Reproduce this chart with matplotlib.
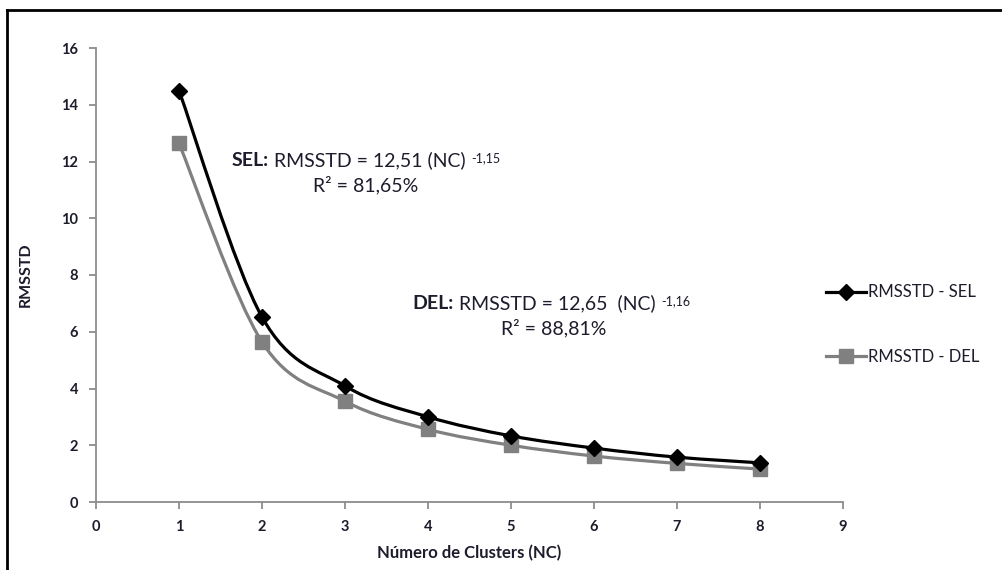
import numpy as np
import matplotlib
matplotlib.use("Agg")
from matplotlib import pyplot as plt
from matplotlib.path import Path
from matplotlib.patches import PathPatch
from matplotlib.lines import Line2D

nc = [1, 2, 3, 4, 5, 6, 7, 8]
rmsstd_sel = [14.5, 6.52, 4.09, 3.0, 2.33, 1.9, 1.58, 1.38]
rmsstd_del = [12.64, 5.64, 3.55, 2.56, 2.0, 1.62, 1.36, 1.16]
labels = ["RMSSTD - SEL", "RMSSTD - DEL"]

plt.rcParams['font.family'] = ['Lato', 'DejaVu Sans']

txt = '#1c1c2c'
W, H = 1003, 570

fig = plt.figure(figsize = (W / 100, H / 100), dpi = 100)
ax = fig.add_axes([96 / W, 1 - 502 / H, (843 - 96) / W, (502 - 48) / H])


def smooth_path(x, y):
	# excel-like smoothed line: bezier segments through the points
	x = np.asarray(x, float)
	y = np.asarray(y, float)
	pts = np.column_stack([x, y])
	n = len(pts)
	verts = [pts[0]]
	codes = [Path.MOVETO]
	for i in range(n - 1):
		p0 = pts[i - 1] if i > 0 else pts[i]
		p1 = pts[i]
		p2 = pts[i + 1]
		p3 = pts[i + 2] if i + 2 < n else pts[i + 1]
		c1 = p1 + (p2 - p0) / 6
		c2 = p2 - (p3 - p1) / 6
		verts += [c1, c2, p2]
		codes += [Path.CURVE4] * 3
	return Path(verts, codes)


ax.add_patch(PathPatch(smooth_path(nc, rmsstd_sel), fill = False, edgecolor = 'black', lw = 2.3, zorder = 3))
ax.add_patch(PathPatch(smooth_path(nc, rmsstd_del), fill = False, edgecolor = '#808080', lw = 2.3, zorder = 2))
ax.plot(nc, rmsstd_sel, 'D', color = 'black', ms = 8, zorder = 4)
ax.plot(nc, rmsstd_del, 's', color = '#808080', ms = 10, zorder = 3)

ax.set_xlim(0, 9)
ax.set_ylim(0, 16)
ax.set_xticks(range(0, 10))
ax.set_yticks(range(0, 17, 2))

for s in ['top', 'right']:
	ax.spines[s].set_visible(False)
for s in ['left', 'bottom']:
	ax.spines[s].set_color('#8c8c8c')
	ax.spines[s].set_linewidth(1.3)
ax.tick_params(direction = 'out', length = 5, width = 1.3, color = '#8c8c8c', labelsize = 10.5, labelcolor = txt, pad = 8)
for lab in ax.get_xticklabels() + ax.get_yticklabels():
	lab.set_fontweight('bold')

ax.set_xlabel("Número de Clusters (NC)", fontsize = 12, fontweight = 'bold', color = txt, labelpad = 8)
ax.set_ylabel("RMSSTD", fontsize = 11.5, fontweight = 'bold', color = txt, labelpad = 20)


def equation(x, y, tag, body, expo):
	t1 = ax.text(x, y, tag, fontsize = 14, fontweight = 'bold', color = txt, va = 'center', ha = 'left')
	t2 = ax.annotate(body, xy = (1, 0.5), xycoords = t1, xytext = (4, 0), textcoords = 'offset points',
					 fontsize = 14, color = txt, va = 'center', ha = 'left')
	ax.annotate(expo, xy = (1, 1), xycoords = t2, xytext = (4, -1), textcoords = 'offset points',
				fontsize = 9, color = txt, va = 'top', ha = 'left')


equation(1.63, 12.05, "SEL:", "RMSSTD = 12,51 (NC)", "-1,15")
ax.text(3.25, 11.17, "R² = 81,65%", fontsize = 14, color = txt, va = 'center', ha = 'center')
equation(3.81, 7.01, "DEL:", "RMSSTD = 12,65  (NC)", "-1,16")
ax.text(5.52, 6.13, "R² = 88,81%", fontsize = 14, color = txt, va = 'center', ha = 'center')

handles = [Line2D([], [], color = 'black', lw = 2.3, marker = 'D', ms = 8),
		   Line2D([], [], color = '#808080', lw = 2.3, marker = 's', ms = 10)]
fig.legend(handles, labels, loc = 'center left', bbox_to_anchor = (826 / W, 1 - 324.5 / H),
		   frameon = False, fontsize = 12, handlelength = 2.4, handletextpad = 0.1,
		   labelspacing = 2.9, borderpad = 0, borderaxespad = 0, labelcolor = txt)

# chart border (left and top visible)
fig.add_artist(Line2D([7 / W, 7 / W], [0, 1 - 10 / H], color = 'black', lw = 2, transform = fig.transFigure))
fig.add_artist(Line2D([7 / W, 1], [1 - 10 / H, 1 - 10 / H], color = 'black', lw = 2, transform = fig.transFigure))

fig.savefig("out.png", dpi = 100)
